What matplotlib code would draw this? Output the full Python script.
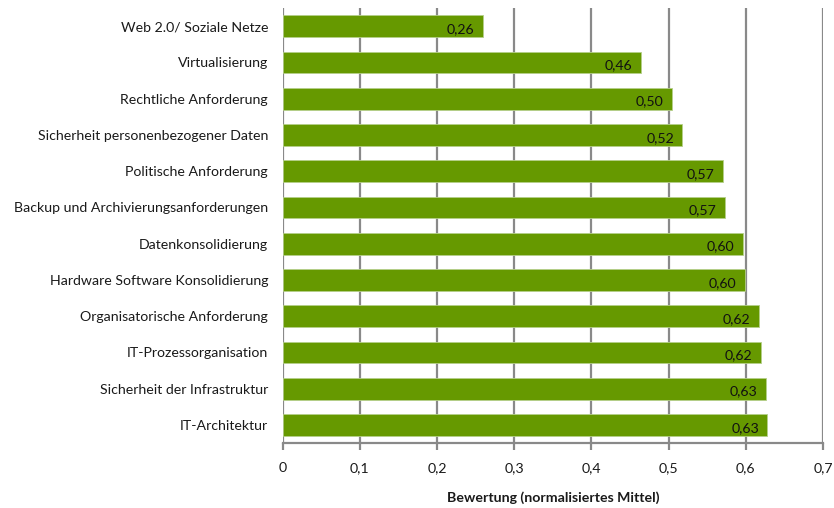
import matplotlib
matplotlib.use("Agg")
import matplotlib.pyplot as plt
from matplotlib.ticker import FixedLocator

categories = [
    "Web 2.0/ Soziale Netze",
    "Virtualisierung",
    "Rechtliche Anforderung",
    "Sicherheit personenbezogener Daten",
    "Politische Anforderung",
    "Backup und Archivierungsanforderungen",
    "Datenkonsolidierung",
    "Hardware Software Konsolidierung",
    "Organisatorische Anforderung",
    "IT-Prozessorganisation",
    "Sicherheit der Infrastruktur",
    "IT-Architektur",
]
values = [0.259, 0.464, 0.504, 0.518, 0.571, 0.573, 0.596, 0.599, 0.617, 0.620, 0.626, 0.628]
xticks = [0, 0.1, 0.2, 0.3, 0.4, 0.5, 0.6, 0.7]
xticklabels = ["0", "0,1", "0,2", "0,3", "0,4", "0,5", "0,6", "0,7"]
xlabel = "Bewertung (normalisiertes Mittel)"

plt.rcParams["font.family"] = ["Lato", "DejaVu Sans"]

fig = plt.figure(figsize=(8.34, 5.08), dpi=100)
ax = fig.add_axes([282.6 / 834, 1 - 443 / 508, (823 - 282.6) / 834, (443 - 8) / 508])

grid_c = "#898989"
ax.set_xlim(0, 0.7)
ax.set_ylim(len(categories) - 0.5, -0.5)
ax.xaxis.set_major_locator(FixedLocator(xticks))
ax.set_xticklabels(xticklabels, fontsize=10.2, color="#1a1a1a")
ax.grid(axis="x", color=grid_c, linewidth=1.6, zorder=0)
ax.set_axisbelow(True)

ypos = list(range(len(categories)))
ax.barh(ypos, values, height=0.6, color="#669900", edgecolor="#b5cf8a",
        linewidth=0.6, zorder=2)
for y, v in zip(ypos, values):
    ax.text(v - 0.011, y + 0.08, f"{v:.2f}".replace(".", ","), ha="right", va="center",
            fontsize=10.2, color="#111111", zorder=3)

ax.set_yticks(ypos)
ax.set_yticklabels(categories, fontsize=10.2, color="#1a1a1a")
ax.tick_params(axis="y", length=0, pad=10.5)
ax.tick_params(axis="x", length=5, width=1.6, color=grid_c, pad=9)

for s in ["top", "right", "left"]:
    ax.spines[s].set_visible(False)
ax.spines["bottom"].set_color(grid_c)
ax.spines["bottom"].set_linewidth(1.6)

ax.set_xlabel(xlabel, fontsize=10.2, fontweight="bold", color="#1a1a1a", labelpad=12)

fig.savefig("out.png", dpi=100)
